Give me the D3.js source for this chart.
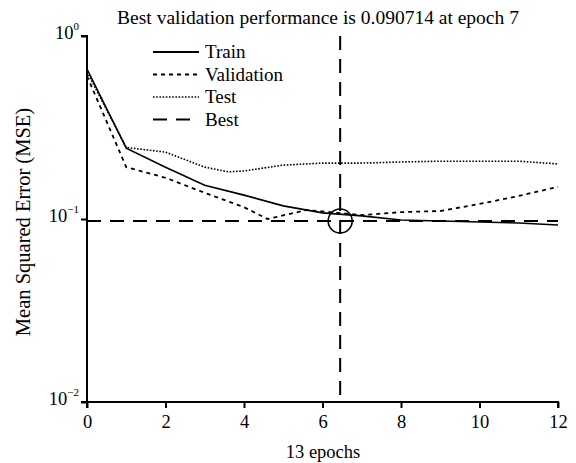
<!DOCTYPE html>
<html><head><meta charset="utf-8">
<script src="https://cdn.jsdelivr.net/npm/d3@7"></script>
<style>body{margin:0;background:#fff}svg{display:block}</style>
</head><body>
<svg id="c" width="576" height="463"></svg>
<script>
const titleText = "Best validation performance is 0.090714 at epoch 7";
const xLabel = "13 epochs";
const yLabel = "Mean Squared Error (MSE)";
const xTicks = [0, 2, 4, 6, 8, 10, 12];
const yTickExps = [0, -1, -2];
const legendLabels = ["Train", "Validation", "Test", "Best"];

const trainX = [0,1,2,3,4,5,6,7,8,9,10,11,12];
const trainY = [0.660,0.244,0.192,0.153,0.135,0.118,0.108,0.104,0.0988,0.0975,0.0963,0.0951,0.0927];
const valX = [0,1,2,3,4,4.6,5.6,7,8,9,10,11,12];
const valY = [0.604,0.192,0.168,0.139,0.116,0.100,0.112,0.105,0.109,0.1106,0.1208,0.1336,0.150];
const testX = [0,1,2,3,3.6,4,5,6,7,8,9,10,11,12];
const testY = [0.636,0.246,0.232,0.192,0.181,0.183,0.197,0.202,0.202,0.205,0.207,0.207,0.207,0.200];
const bestEpoch = 6.45;
const bestValue = 0.0975;

const FONT = "'Liberation Serif', 'Times New Roman', Times, 'DejaVu Serif', serif";
const svg = d3.select("#c");
const x = d3.scaleLinear().domain([0, 12]).range([87, 558]);
const y = d3.scaleLog().domain([0.01, 1]).range([402, 36]);

function txt(sel) { return sel.attr("font-family", FONT).style("font-family", FONT).attr("fill", "#000"); }

// axes
const xAxis = d3.axisBottom(x).tickValues(xTicks).tickSize(6).tickPadding(5).tickFormat(d3.format("d"));
const gx = svg.append("g").attr("transform", "translate(0,402)").call(xAxis).attr("font-family", FONT);
gx.select(".domain").attr("d", `M${x(0)},6V0H${x(12)}V6`).attr("stroke-width", 2);
gx.selectAll(".tick line").attr("stroke-width", 2);
txt(gx.selectAll(".tick text")).style("font-size", "18.5px").attr("dy", "0.8em");

const gy = svg.append("g").attr("transform", `translate(${x(0)},0)`)
  .call(d3.axisLeft(y).tickValues(yTickExps.map(e => Math.pow(10, e))).tickSize(6).tickFormat(""));
gy.select(".domain").attr("d", `M-6,${y(1)}H0V${y(0.01)}H-6`).attr("stroke-width", 2);
gy.selectAll(".tick line").attr("stroke-width", 2);
yTickExps.forEach(e => {
  const t = txt(svg.append("text")).attr("x", x(0) - 8).attr("y", y(Math.pow(10, e)) + 3)
    .attr("text-anchor", "end").style("font-size", "18.5px");
  t.append("tspan").text("10");
  t.append("tspan").attr("dy", -9).style("font-size", "11px").text(e === 0 ? "0" : "\u2212" + (-e));
});

// best lines
svg.append("line").attr("x1", x(0)).attr("x2", x(12)).attr("y1", y(bestValue)).attr("y2", y(bestValue))
  .attr("stroke", "#000").attr("stroke-width", 2).attr("stroke-dasharray", "14,9");
svg.append("line").attr("x1", x(bestEpoch)).attr("x2", x(bestEpoch)).attr("y1", y(1)).attr("y2", y(0.01))
  .attr("stroke", "#000").attr("stroke-width", 2).attr("stroke-dasharray", "14,9");

// data lines
const line = d3.line().x(d => x(d[0])).y(d => y(d[1]));
const series = [
  {xs: trainX, ys: trainY, dash: null, w: 1.6},
  {xs: valX, ys: valY, dash: "4,4", w: 1.8},
  {xs: testX, ys: testY, dash: "1.6,1.6", w: 1.6}
];
series.forEach(s => {
  svg.append("path").datum(s.xs.map((v, i) => [v, s.ys[i]])).attr("d", line)
    .attr("fill", "none").attr("stroke", "#000").attr("stroke-width", s.w)
    .attr("stroke-dasharray", s.dash);
});

// circle marker
svg.append("circle").attr("cx", x(bestEpoch)).attr("cy", y(bestValue)).attr("r", 12)
  .attr("fill", "none").attr("stroke", "#000").attr("stroke-width", 1.6);

// legend
const legDash = [null, "4,4", "1.6,1.6", "14,9"];
const legW = [1.8, 1.8, 1.6, 2];
legendLabels.forEach((lab, i) => {
  const yy = 52 + i * 22.5;
  svg.append("line").attr("x1", 153).attr("x2", 199).attr("y1", yy).attr("y2", yy)
    .attr("stroke", "#000").attr("stroke-width", legW[i]).attr("stroke-dasharray", legDash[i]);
  txt(svg.append("text")).attr("x", 205).attr("y", yy + 6).style("font-size", "19px").text(lab);
});

// title and labels
txt(svg.append("text")).attr("x", 318).attr("y", 24).attr("text-anchor", "middle").style("font-size", "19.5px").text(titleText);
txt(svg.append("text")).attr("x", 323).attr("y", 458).attr("text-anchor", "middle").style("font-size", "18.5px").text(xLabel);
txt(svg.append("text")).attr("transform", "translate(30,222) rotate(-90)").attr("text-anchor", "middle").style("font-size", "20.5px").text(yLabel);
</script>
</body></html>
